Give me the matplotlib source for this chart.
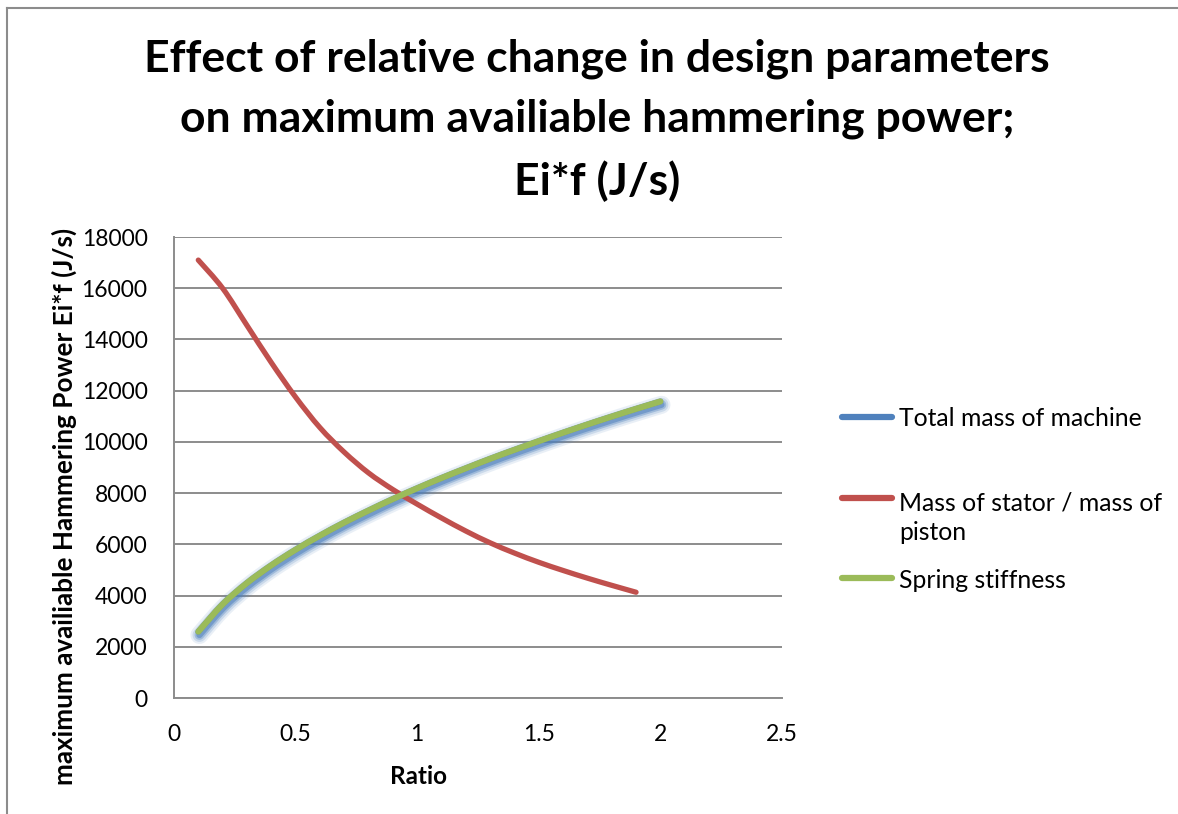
import matplotlib.pyplot as plt
import matplotlib.patheffects as pe
from matplotlib.lines import Line2D
from matplotlib.path import Path
from matplotlib.patches import PathPatch

# Ratio values used for each design parameter sweep
ratio_mass = [0.1, 0.2, 0.3, 0.4, 0.5, 0.6, 0.7, 0.8, 0.9, 1.0,
              1.1, 1.2, 1.3, 1.4, 1.5, 1.6, 1.7, 1.8, 1.9, 2.0]
ratio_stator = [0.1, 0.2, 0.3, 0.4, 0.5, 0.6, 0.7, 0.8, 0.9, 1.0,
                1.1, 1.2, 1.3, 1.4, 1.5, 1.6, 1.7, 1.8, 1.9]
ratio_spring = ratio_mass

# Hammering power Ei*f (J/s)
power_total_mass = [2590, 3660, 4490, 5180, 5790, 6340, 6850, 7320, 7770, 8190,
                    8590, 8970, 9340, 9690, 10030, 10360, 10680, 10990, 11290, 11580]
power_stator = [17100, 16000, 14550, 13100, 11750, 10560, 9600, 8790, 8140, 7570,
                7030, 6520, 6060, 5660, 5300, 4980, 4680, 4400, 4130]
power_spring = [2590, 3660, 4490, 5180, 5790, 6340, 6850, 7320, 7770, 8190,
                8590, 8970, 9340, 9690, 10030, 10360, 10680, 10990, 11290, 11580]

series_names = ["Total mass of machine", "Mass of stator / mass of\npiston", "Spring stiffness"]
colors = ["#4F81BD", "#C0504D", "#9BBB59"]

y_ticks = [0, 2000, 4000, 6000, 8000, 10000, 12000, 14000, 16000, 18000]
x_ticks = [0, 0.5, 1, 1.5, 2, 2.5]
x_tick_labels = ["0", "0.5", "1", "1.5", "2", "2.5"]

plt.rcParams['font.family'] = ['Lato', 'DejaVu Sans']


def smooth_path(xs, ys):
    # spreadsheet-style smoothed line: cubic Bezier through every point
    pts = list(zip(xs, ys))
    verts = [pts[0]]
    codes = [Path.MOVETO]
    n = len(pts)
    for i in range(n - 1):
        p0 = pts[max(i - 1, 0)]
        p1 = pts[i]
        p2 = pts[i + 1]
        p3 = pts[min(i + 2, n - 1)]
        c1 = (p1[0] + (p2[0] - p0[0]) / 6, p1[1] + (p2[1] - p0[1]) / 6)
        c2 = (p2[0] - (p3[0] - p1[0]) / 6, p2[1] - (p3[1] - p1[1]) / 6)
        verts += [c1, c2, p2]
        codes += [Path.CURVE4] * 3
    return Path(verts, codes)


fig = plt.figure(figsize=(11.78, 8.14), dpi=100)
ax = fig.add_axes([0.1477, 0.1425, 0.5161, 0.5663])

# blue series sits under the green one, only its soft shadow shows
shadow_off = (0.8, -2.4)
glow = [pe.SimpleLineShadow(offset=shadow_off, shadow_color=colors[0], alpha=0.12, linewidth=13),
        pe.SimpleLineShadow(offset=shadow_off, shadow_color=colors[0], alpha=0.2, linewidth=10),
        pe.SimpleLineShadow(offset=shadow_off, shadow_color=colors[0], alpha=0.35, linewidth=7),
        pe.SimpleLineShadow(offset=shadow_off, shadow_color=colors[0], alpha=0.55, linewidth=4.5),
        pe.Normal()]
ax.add_patch(PathPatch(smooth_path(ratio_mass, power_total_mass), fill=False,
                       edgecolor=colors[0], lw=4.2, capstyle='round',
                       path_effects=glow, zorder=3))
ax.add_patch(PathPatch(smooth_path(ratio_stator, power_stator), fill=False,
                       edgecolor=colors[1], lw=3.8, capstyle='round', zorder=4))
ax.add_patch(PathPatch(smooth_path(ratio_spring, power_spring), fill=False,
                       edgecolor=colors[2], lw=4.4, capstyle='round', zorder=5))

ax.set_xlim(0, 2.5)
ax.set_ylim(0, 18000)
ax.set_xticks(x_ticks)
ax.set_xticklabels(x_tick_labels)
ax.set_yticks(y_ticks)
ax.tick_params(length=0, labelsize=16.5)
ax.tick_params(axis='x', pad=19)
ax.tick_params(axis='y', pad=19)
ax.grid(axis='y', color='#8C8C8C', lw=1.4)
ax.set_axisbelow(True)
for side in ['top', 'right']:
    ax.spines[side].set_visible(False)
for side in ['left', 'bottom']:
    ax.spines[side].set_color('#8C8C8C')
    ax.spines[side].set_linewidth(1.4)

ax.set_xlabel("Ratio", fontsize=17.5, fontweight='bold')
ax.set_ylabel("maximum availiable Hammering Power Ei*f (J/s)", fontsize=18.8,
              fontweight='bold')
ax.xaxis.set_label_coords(0.402, -0.145)
ax.yaxis.set_label_coords(-0.16, 0.416)

fig.text(0.507, 0.8526, "Effect of relative change in design parameters\n"
         "on maximum availiable hammering power;\nEi*f (J/s)",
         ha='center', va='center', fontsize=32, fontweight='bold', linespacing=1.6)

# legend keys and labels on the right
W, H = fig.get_size_inches() * fig.dpi
key_rows = [417, 498, 578]
for c, name, row in zip(colors, series_names, key_rows):
    fy = 1 - row / H
    extra_lines = name.count("\n")
    fig.add_artist(Line2D([842 / W, 892 / W], [fy, fy], color=c, lw=4.5,
                          solid_capstyle='round'))
    fig.text(899 / W, fy - (9.5 + 32 * extra_lines) / H, name, ha='left',
             va='baseline', fontsize=17.8, linespacing=1.3)

# outer chart border
fig.add_artist(Line2D([0.006, 0.006], [0, 0.990], color='#8C8C8C', lw=1.5))
fig.add_artist(Line2D([0.006, 1.0], [0.990, 0.990], color='#8C8C8C', lw=1.5))

fig.savefig("out.png", dpi=100)
